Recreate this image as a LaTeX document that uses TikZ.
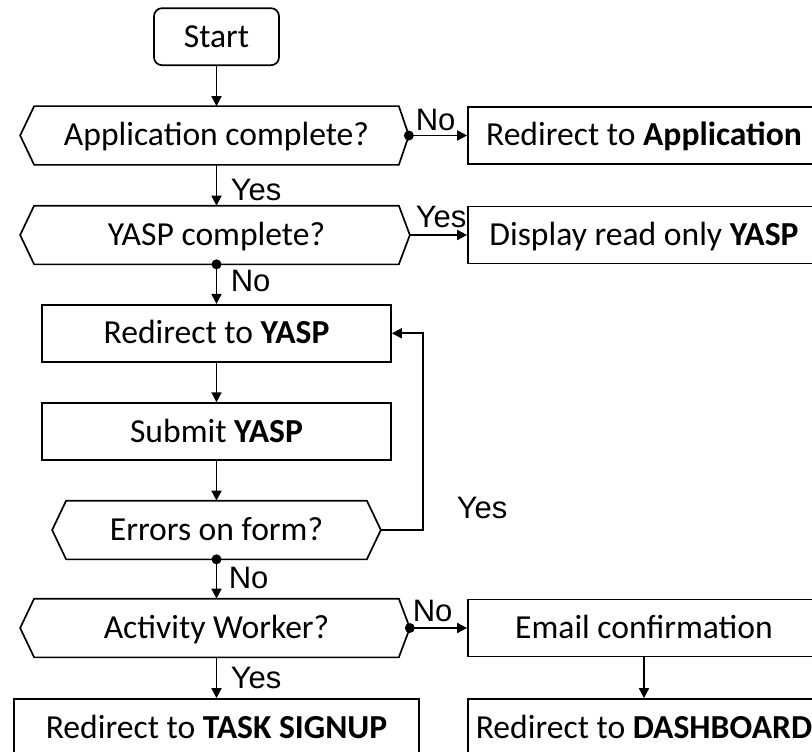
\documentclass[tikz,border=0pt]{standalone}
\usepackage{fontspec}
\setmainfont{Carlito}
\newfontfamily\labelfont{Liberation Sans}
\usetikzlibrary{arrows.meta}

% Hexagonal decision outline around a text node; also defines the right tip (<name>R)
\newcommand\hexoutline[3]{%
  \draw (#1.north west) -- (#1.north east) -- ([xshift=#3]#1.east)
     -- (#1.south east) -- (#1.south west) -- ([xshift=-#2]#1.west) -- cycle;
  \coordinate (#1R) at ([xshift=#3]#1.east);}

\tikzset{
  boxtext/.style={rectangle, inner sep=0pt, minimum height=57pt,
    text height=21pt, text depth=0pt, font=\fontsize{33.6}{40}\selectfont},
  flowbox/.style={boxtext, draw},
  startbox/.style={flowbox, rounded corners=8pt},
  decision/.style={boxtext},
  lbl/.style={font=\labelfont\fontsize{31}{36}\selectfont, inner sep=0pt, anchor=base west},
  flow/.style={-{Triangle[length=10pt,width=10pt]}},
}

\begin{document}
\begin{tikzpicture}[x=1pt, y=-1pt, line width=1.7pt]
\useasboundingbox (0,0) rectangle (812,752);

% left column
\node[startbox, minimum width=125pt] (start) at (216.5,36.7) {Start};
\node[decision, minimum width=363pt] (d1) at (216.5,135.5) {Application complete?};
\node[decision, minimum width=363pt] (d2) at (216.5,235) {YASP complete?};
\node[flowbox, minimum width=349pt] (ry) at (216.5,333.3) {Redirect to \textbf{YASP}};
\node[flowbox, minimum width=349pt] (sy) at (216.5,431.7) {Submit \textbf{YASP}};
\node[decision, minimum width=299pt] (d3) at (216.5,530) {Errors on form?};
\node[decision, minimum width=363pt] (d4) at (216.5,628) {Activity Worker?};
\node[flowbox, minimum width=405pt] (ts) at (216.5,727.5) {Redirect to \textbf{TASK SIGNUP}};

% right column
\node[flowbox, minimum width=352pt] (app) at (644,135.5) {Redirect to \textbf{Application}};
\node[flowbox, minimum width=352pt] (ro) at (644,235) {Display read only \textbf{YASP}};
\node[flowbox, minimum width=352pt] (em) at (644,628) {Email confirmation};
\node[flowbox, minimum width=352pt] (db) at (644,727.5) {Redirect to \textbf{DASHBOARD}};

% decision outlines
\hexoutline{d1}{14pt}{10pt}
\hexoutline{d2}{14pt}{11pt}
\hexoutline{d3}{14pt}{14pt}
\hexoutline{d4}{14pt}{11pt}

\coordinate (loopturn) at (423.3,333.3);

% connectors
\draw[flow] (start) -- (d1);
\draw[flow] (d1R) -- (app.west);
\draw[flow] (d1) -- (d2);
\draw[flow] (d2R) -- (ro.west);
\draw[flow] (d2) -- (ry);
\draw[flow] (ry) -- (sy);
\draw[flow] (sy) -- (d3);
\draw[flow] (d3R) -| (loopturn) -- (ry.east);
\draw[flow] (d3) -- (d4);
\draw[flow] (d4R) -- (em.west);
\draw[flow] (d4) -- (ts);
\draw[flow] (em) -- (db);

% branch dots
\fill (d1R) circle (5pt);
\fill (d2.south) circle (5pt);
\fill (d3.south) circle (5pt);
\fill (d4R) circle (5pt);

% branch labels
\node[lbl] (nA) at (415,130) {No};
\node[lbl] (yA) at (230,200) {Yes};
\node[lbl] (nB) at (230,291.7) {No};
\node[lbl] (yB) at (415,227) {Yes};
\node[lbl] (yL) at (456,518) {Yes};
\node[lbl] (nC) at (228,588) {No};
\node[lbl] (nD) at (412,621.7) {No};
\node[lbl] (yD) at (230,688) {Yes};
\end{tikzpicture}
\end{document}
